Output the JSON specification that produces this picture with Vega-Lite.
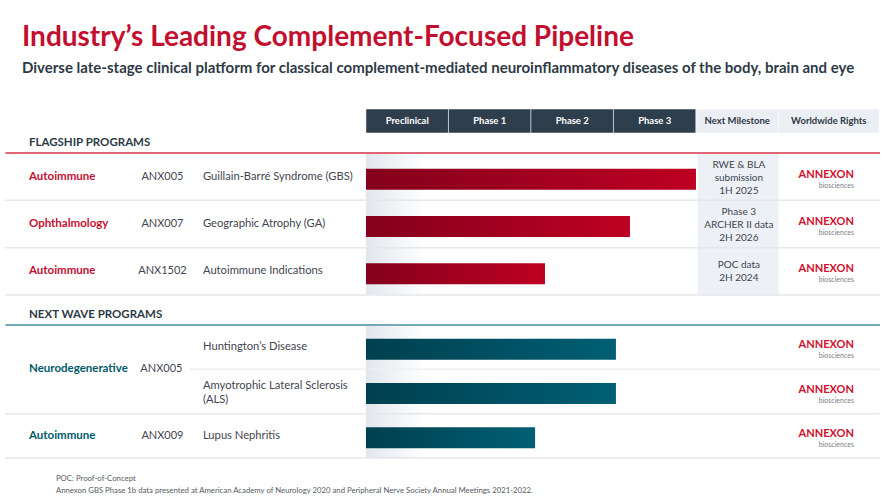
{
  "$schema": "https://vega.github.io/schema/vega-lite/v6.json",
  "background": "white",
  "padding": {"top": 23, "left": 0, "right": 0, "bottom": 0},
  "bounds": "flush",
  "spacing": 0,
  "title": {
    "text": "Industry’s Leading Complement-Focused Pipeline",
    "subtitle": "Diverse late-stage clinical platform for classical complement-mediated neuroinflammatory diseases of the body, brain and eye",
    "anchor": "start",
    "dx": 22,
    "fontSize": 28,
    "fontWeight": "bold",
    "color": "#C30F2F",
    "subtitleFontSize": 15,
    "subtitleFontWeight": "bold",
    "subtitleColor": "#2E3A46",
    "subtitlePadding": 9,
    "offset": 33
  },
  "datasets": {
    "columns": [
      {"col": "Preclinical", "start": 0, "end": 1, "kind": "phase"},
      {"col": "Phase 1", "start": 1, "end": 2, "kind": "phase"},
      {"col": "Phase 2", "start": 2, "end": 3, "kind": "phase"},
      {"col": "Phase 3", "start": 3, "end": 4, "kind": "phase"},
      {"col": "Next Milestone", "start": 4, "end": 5, "kind": "info"},
      {"col": "Worldwide Rights", "start": 5, "end": 6.22, "kind": "info"}
    ],
    "flagship": [
      {"category": "Autoimmune", "drug": "ANX005", "indication": "Guillain-Barré Syndrome (GBS)", "progress": 4.0, "milestone": "RWE & BLA\nsubmission\n1H 2025", "rights": "ANNEXON"},
      {"category": "Ophthalmology", "drug": "ANX007", "indication": "Geographic Atrophy (GA)", "progress": 3.2, "milestone": "Phase 3\nARCHER II data\n2H 2026", "rights": "ANNEXON"},
      {"category": "Autoimmune", "drug": "ANX1502", "indication": "Autoimmune Indications", "progress": 2.17, "milestone": "POC data\n2H 2024", "rights": "ANNEXON"}
    ],
    "nextwave": [
      {"category": "Neurodegenerative", "drug": "ANX005", "indication": "Huntington’s Disease", "progress": 3.03, "rights": "ANNEXON"},
      {"category": "Neurodegenerative", "drug": "ANX005", "indication": "Amyotrophic Lateral Sclerosis\n(ALS)", "progress": 3.03, "rights": "ANNEXON"},
      {"category": "Autoimmune", "drug": "ANX009", "indication": "Lupus Nephritis", "progress": 2.05, "rights": "ANNEXON"}
    ],
    "notes": [
      {"line": 1, "text": "POC: Proof-of-Concept"},
      {"line": 2, "text": "Annexon GBS Phase 1b data presented at American Academy of Neurology 2020 and Peripheral Nerve Society Annual Meetings 2021-2022."}
    ]
  },
  "vconcat": [
    {
      "width": 890, "height": 24,
      "data": {"name": "columns"},
      "transform": [{"calculate": "(datum.start + datum.end) / 2", "as": "mid"}],
      "layer": [
        {
          "mark": {"type": "rect", "stroke": "#FFFFFF", "strokeWidth": 1, "strokeOpacity": 0.5},
          "encoding": {
            "x": {"field": "start", "type": "quantitative", "scale": {"domain": [-4.436, 6.352], "nice": false, "zero": false}, "axis": null},
            "x2": {"field": "end"},
            "fill": {"field": "kind", "type": "nominal", "scale": {"domain": ["phase", "info"], "range": ["#2F3E4D", "#EBEEF2"]}, "legend": null}
          }
        },
        {
          "mark": {"type": "text", "fontSize": 9.5, "fontWeight": "bold", "align": "center"},
          "encoding": {
            "x": {"field": "mid", "type": "quantitative", "scale": {"domain": [-4.436, 6.352], "nice": false, "zero": false}, "axis": null},
            "text": {"field": "col"},
            "color": {"field": "kind", "type": "nominal", "scale": {"domain": ["phase", "info"], "range": ["#FFFFFF", "#2E3A46"]}, "legend": null}
          }
        }
      ]
    },
    {
      "width": 890, "height": 20,
      "data": {"values": [{"section": "FLAGSHIP PROGRAMS"}]},
      "mark": {"type": "text", "align": "left", "fontSize": 11.5, "fontWeight": "bold", "color": "#2E3A46"},
      "encoding": {
        "x": {"datum": -4.085, "type": "quantitative", "scale": {"domain": [-4.436, 6.352], "nice": false, "zero": false}, "axis": null},
        "text": {"field": "section"}
      }
    },
    {
      "width": 890, "height": 152,
      "data": {"name": "flagship"},
      "layer": [
        {
          "mark": {"type": "bar", "fill": {"gradient": "linear", "x1": 0, "x2": 1, "y1": 0, "y2": 0, "stops": [{"offset": 0, "color": "#E2E7ED"}, {"offset": 1, "color": "#FFFFFF"}]}},
          "encoding": {
            "x": {"datum": 0, "type": "quantitative", "scale": {"domain": [-4.436, 6.352], "nice": false, "zero": false}, "axis": null},
            "x2": {"datum": 0.73},
            "y": {"field": "indication", "type": "nominal", "sort": null, "scale": {"domain": ["Guillain-Barré Syndrome (GBS)", "Geographic Atrophy (GA)", "Autoimmune Indications"], "paddingInner": 0, "paddingOuter": 0.1056, "align": 0}, "axis": null}
          }
        },
        {
          "mark": {"type": "bar", "fill": "#EDF0F4"},
          "encoding": {
            "x": {"datum": 4.02, "type": "quantitative", "scale": {"domain": [-4.436, 6.352], "nice": false, "zero": false}, "axis": null},
            "x2": {"datum": 5.0},
            "y": {"field": "indication", "type": "nominal", "sort": null, "axis": null}
          }
        },
        {
          "mark": {"type": "rule", "stroke": "#E4E7EB", "strokeWidth": 1.5},
          "encoding": {
            "x": {"datum": -4.37, "type": "quantitative", "scale": {"domain": [-4.436, 6.352], "nice": false, "zero": false}, "axis": null},
            "x2": {"datum": 6.23},
            "y": {"field": "indication", "type": "nominal", "sort": null, "bandPosition": 1, "axis": null}
          }
        },
        {
          "transform": [{"filter": "datum.indication === 'Guillain-Barré Syndrome (GBS)'"}],
          "mark": {"type": "rule", "stroke": "#D93448", "strokeWidth": 1.5},
          "encoding": {
            "x": {"datum": -4.37, "type": "quantitative", "scale": {"domain": [-4.436, 6.352], "nice": false, "zero": false}, "axis": null},
            "x2": {"datum": 6.23},
            "y": {"field": "indication", "type": "nominal", "sort": null, "bandPosition": 0, "axis": null}
          }
        },
        {
          "mark": {"type": "bar", "height": 21, "yOffset": 2.5, "fill": {"gradient": "linear", "x1": 0, "x2": 1, "y1": 0, "y2": 0, "stops": [{"offset": 0, "color": "#84001C"}, {"offset": 1, "color": "#BE0022"}]}},
          "encoding": {
            "x": {"field": "progress", "type": "quantitative", "scale": {"domain": [-4.436, 6.352], "nice": false, "zero": false}, "axis": null},
            "x2": {"datum": 0},
            "y": {"field": "indication", "type": "nominal", "sort": null, "axis": null}
          }
        },
        {
          "mark": {"type": "text", "align": "left", "fontSize": 11.5, "fontWeight": "bold", "color": "#C30F2F"},
          "encoding": {
            "x": {"datum": -4.085, "type": "quantitative", "scale": {"domain": [-4.436, 6.352], "nice": false, "zero": false}, "axis": null},
            "y": {"field": "indication", "type": "nominal", "sort": null, "axis": null},
            "text": {"field": "category"}
          }
        },
        {
          "mark": {"type": "text", "align": "center", "fontSize": 11, "color": "#3F4650"},
          "encoding": {
            "x": {"datum": -2.467, "type": "quantitative", "scale": {"domain": [-4.436, 6.352], "nice": false, "zero": false}, "axis": null},
            "y": {"field": "indication", "type": "nominal", "sort": null, "axis": null},
            "text": {"field": "drug"}
          }
        },
        {
          "mark": {"type": "text", "align": "left", "fontSize": 11.2, "color": "#3F4650"},
          "encoding": {
            "x": {"datum": -1.976, "type": "quantitative", "scale": {"domain": [-4.436, 6.352], "nice": false, "zero": false}, "axis": null},
            "y": {"field": "indication", "type": "nominal", "sort": null, "axis": null},
            "text": {"field": "indication"}
          }
        },
        {
          "transform": [{"filter": "datum.indication !== 'Autoimmune Indications'"}],
          "mark": {"type": "text", "align": "center", "fontSize": 10, "lineBreak": "\n", "lineHeight": 13, "dy": -12, "color": "#3B4652"},
          "encoding": {
            "x": {"datum": 4.52, "type": "quantitative", "scale": {"domain": [-4.436, 6.352], "nice": false, "zero": false}, "axis": null},
            "y": {"field": "indication", "type": "nominal", "sort": null, "axis": null},
            "text": {"field": "milestone"}
          }
        },
        {
          "transform": [{"filter": "datum.indication === 'Autoimmune Indications'"}],
          "mark": {"type": "text", "align": "center", "fontSize": 10, "lineBreak": "\n", "lineHeight": 13, "dy": -6, "color": "#3B4652"},
          "encoding": {
            "x": {"datum": 4.52, "type": "quantitative", "scale": {"domain": [-4.436, 6.352], "nice": false, "zero": false}, "axis": null},
            "y": {"field": "indication", "type": "nominal", "sort": null, "axis": null},
            "text": {"field": "milestone"}
          }
        },
        {
          "mark": {"type": "text", "align": "right", "fontSize": 11, "fontWeight": "bold", "dy": -2, "color": "#D0102C"},
          "encoding": {
            "x": {"datum": 5.915, "type": "quantitative", "scale": {"domain": [-4.436, 6.352], "nice": false, "zero": false}, "axis": null},
            "y": {"field": "indication", "type": "nominal", "sort": null, "axis": null},
            "text": {"field": "rights"}
          }
        },
        {
          "mark": {"type": "text", "align": "right", "fontSize": 7, "dy": 9, "color": "#7A8088", "text": "biosciences"},
          "encoding": {
            "x": {"datum": 5.915, "type": "quantitative", "scale": {"domain": [-4.436, 6.352], "nice": false, "zero": false}, "axis": null},
            "y": {"field": "indication", "type": "nominal", "sort": null, "axis": null}
          }
        }
      ]
    },
    {
      "width": 890, "height": 20,
      "data": {"values": [{"section": "NEXT WAVE PROGRAMS"}]},
      "mark": {"type": "text", "align": "left", "fontSize": 11.5, "fontWeight": "bold", "color": "#2E3A46"},
      "encoding": {
        "x": {"datum": -4.085, "type": "quantitative", "scale": {"domain": [-4.436, 6.352], "nice": false, "zero": false}, "axis": null},
        "text": {"field": "section"}
      }
    },
    {
      "width": 890, "height": 133,
      "data": {"name": "nextwave"},
      "layer": [
        {
          "mark": {"type": "bar", "fill": {"gradient": "linear", "x1": 0, "x2": 1, "y1": 0, "y2": 0, "stops": [{"offset": 0, "color": "#E2E7ED"}, {"offset": 1, "color": "#FFFFFF"}]}},
          "encoding": {
            "x": {"datum": 0, "type": "quantitative", "scale": {"domain": [-4.436, 6.352], "nice": false, "zero": false}, "axis": null},
            "x2": {"datum": 0.73},
            "y": {"field": "indication", "type": "nominal", "sort": null, "scale": {"domain": ["Huntington’s Disease", "Amyotrophic Lateral Sclerosis\n(ALS)", "Lupus Nephritis"], "paddingInner": 0, "paddingOuter": 0}, "axis": null}
          }
        },
        {
          "transform": [{"filter": "datum.indication !== 'Huntington’s Disease'"}],
          "mark": {"type": "rule", "stroke": "#E4E7EB", "strokeWidth": 1.5},
          "encoding": {
            "x": {"datum": -4.37, "type": "quantitative", "scale": {"domain": [-4.436, 6.352], "nice": false, "zero": false}, "axis": null},
            "x2": {"datum": 6.23},
            "y": {"field": "indication", "type": "nominal", "sort": null, "bandPosition": 1, "axis": null}
          }
        },
        {
          "transform": [{"filter": "datum.indication === 'Huntington’s Disease'"}],
          "mark": {"type": "rule", "stroke": "#EDEFF2", "strokeWidth": 1.5},
          "encoding": {
            "x": {"datum": -2.133, "type": "quantitative", "scale": {"domain": [-4.436, 6.352], "nice": false, "zero": false}, "axis": null},
            "x2": {"datum": 6.23},
            "y": {"field": "indication", "type": "nominal", "sort": null, "bandPosition": 1, "axis": null}
          }
        },
        {
          "transform": [{"filter": "datum.indication === 'Huntington’s Disease'"}],
          "mark": {"type": "rule", "stroke": "#74A9B6", "strokeWidth": 2},
          "encoding": {
            "x": {"datum": -4.37, "type": "quantitative", "scale": {"domain": [-4.436, 6.352], "nice": false, "zero": false}, "axis": null},
            "x2": {"datum": 6.23},
            "y": {"field": "indication", "type": "nominal", "sort": null, "bandPosition": 0, "axis": null}
          }
        },
        {
          "mark": {"type": "bar", "height": 21, "yOffset": 2, "fill": {"gradient": "linear", "x1": 0, "x2": 1, "y1": 0, "y2": 0, "stops": [{"offset": 0, "color": "#00404F"}, {"offset": 1, "color": "#005F74"}]}},
          "encoding": {
            "x": {"field": "progress", "type": "quantitative", "scale": {"domain": [-4.436, 6.352], "nice": false, "zero": false}, "axis": null},
            "x2": {"datum": 0},
            "y": {"field": "indication", "type": "nominal", "sort": null, "axis": null}
          }
        },
        {
          "transform": [{"filter": "datum.indication === 'Huntington’s Disease'"}],
          "mark": {"type": "text", "align": "left", "fontSize": 11.5, "fontWeight": "bold", "color": "#005A6B"},
          "encoding": {
            "x": {"datum": -4.085, "type": "quantitative", "scale": {"domain": [-4.436, 6.352], "nice": false, "zero": false}, "axis": null},
            "y": {"field": "indication", "type": "nominal", "sort": null, "bandPosition": 1, "axis": null},
            "text": {"field": "category"}
          }
        },
        {
          "transform": [{"filter": "datum.indication === 'Lupus Nephritis'"}],
          "mark": {"type": "text", "align": "left", "fontSize": 11.5, "fontWeight": "bold", "color": "#005A6B"},
          "encoding": {
            "x": {"datum": -4.085, "type": "quantitative", "scale": {"domain": [-4.436, 6.352], "nice": false, "zero": false}, "axis": null},
            "y": {"field": "indication", "type": "nominal", "sort": null, "axis": null},
            "text": {"field": "category"}
          }
        },
        {
          "transform": [{"filter": "datum.indication === 'Huntington’s Disease'"}],
          "mark": {"type": "text", "align": "center", "fontSize": 11, "color": "#3F4650"},
          "encoding": {
            "x": {"datum": -2.48, "type": "quantitative", "scale": {"domain": [-4.436, 6.352], "nice": false, "zero": false}, "axis": null},
            "y": {"field": "indication", "type": "nominal", "sort": null, "bandPosition": 1, "axis": null},
            "text": {"field": "drug"}
          }
        },
        {
          "transform": [{"filter": "datum.indication === 'Lupus Nephritis'"}],
          "mark": {"type": "text", "align": "center", "fontSize": 11, "color": "#3F4650"},
          "encoding": {
            "x": {"datum": -2.467, "type": "quantitative", "scale": {"domain": [-4.436, 6.352], "nice": false, "zero": false}, "axis": null},
            "y": {"field": "indication", "type": "nominal", "sort": null, "axis": null},
            "text": {"field": "drug"}
          }
        },
        {
          "transform": [{"filter": "datum.indication !== 'Amyotrophic Lateral Sclerosis\\n(ALS)'"}],
          "mark": {"type": "text", "align": "left", "fontSize": 11.2, "color": "#3F4650"},
          "encoding": {
            "x": {"datum": -1.976, "type": "quantitative", "scale": {"domain": [-4.436, 6.352], "nice": false, "zero": false}, "axis": null},
            "y": {"field": "indication", "type": "nominal", "sort": null, "axis": null},
            "text": {"field": "indication"}
          }
        },
        {
          "transform": [{"filter": "datum.indication === 'Amyotrophic Lateral Sclerosis\\n(ALS)'"}],
          "mark": {"type": "text", "align": "left", "fontSize": 11.2, "lineBreak": "\n", "lineHeight": 14, "dy": -6, "color": "#3F4650"},
          "encoding": {
            "x": {"datum": -1.976, "type": "quantitative", "scale": {"domain": [-4.436, 6.352], "nice": false, "zero": false}, "axis": null},
            "y": {"field": "indication", "type": "nominal", "sort": null, "axis": null},
            "text": {"field": "indication"}
          }
        },
        {
          "mark": {"type": "text", "align": "right", "fontSize": 11, "fontWeight": "bold", "dy": -2, "color": "#D0102C"},
          "encoding": {
            "x": {"datum": 5.915, "type": "quantitative", "scale": {"domain": [-4.436, 6.352], "nice": false, "zero": false}, "axis": null},
            "y": {"field": "indication", "type": "nominal", "sort": null, "axis": null},
            "text": {"field": "rights"}
          }
        },
        {
          "mark": {"type": "text", "align": "right", "fontSize": 7, "dy": 9, "color": "#7A8088", "text": "biosciences"},
          "encoding": {
            "x": {"datum": 5.915, "type": "quantitative", "scale": {"domain": [-4.436, 6.352], "nice": false, "zero": false}, "axis": null},
            "y": {"field": "indication", "type": "nominal", "sort": null, "axis": null}
          }
        }
      ]
    },
    {
      "width": 890, "height": 33,
      "data": {"name": "notes"},
      "mark": {"type": "text", "align": "left", "fontSize": 7.75, "color": "#555B62"},
      "encoding": {
        "x": {"datum": -3.758, "type": "quantitative", "scale": {"domain": [-4.436, 6.352], "nice": false, "zero": false}, "axis": null},
        "y": {"field": "line", "type": "ordinal", "scale": {"type": "point", "padding": 0.875, "align": 1}, "axis": null},
        "text": {"field": "text"}
      }
    }
  ],
  "config": {
    "font": "Lato",
    "view": {"stroke": null},
    "axis": {"disable": true}
  }
}
